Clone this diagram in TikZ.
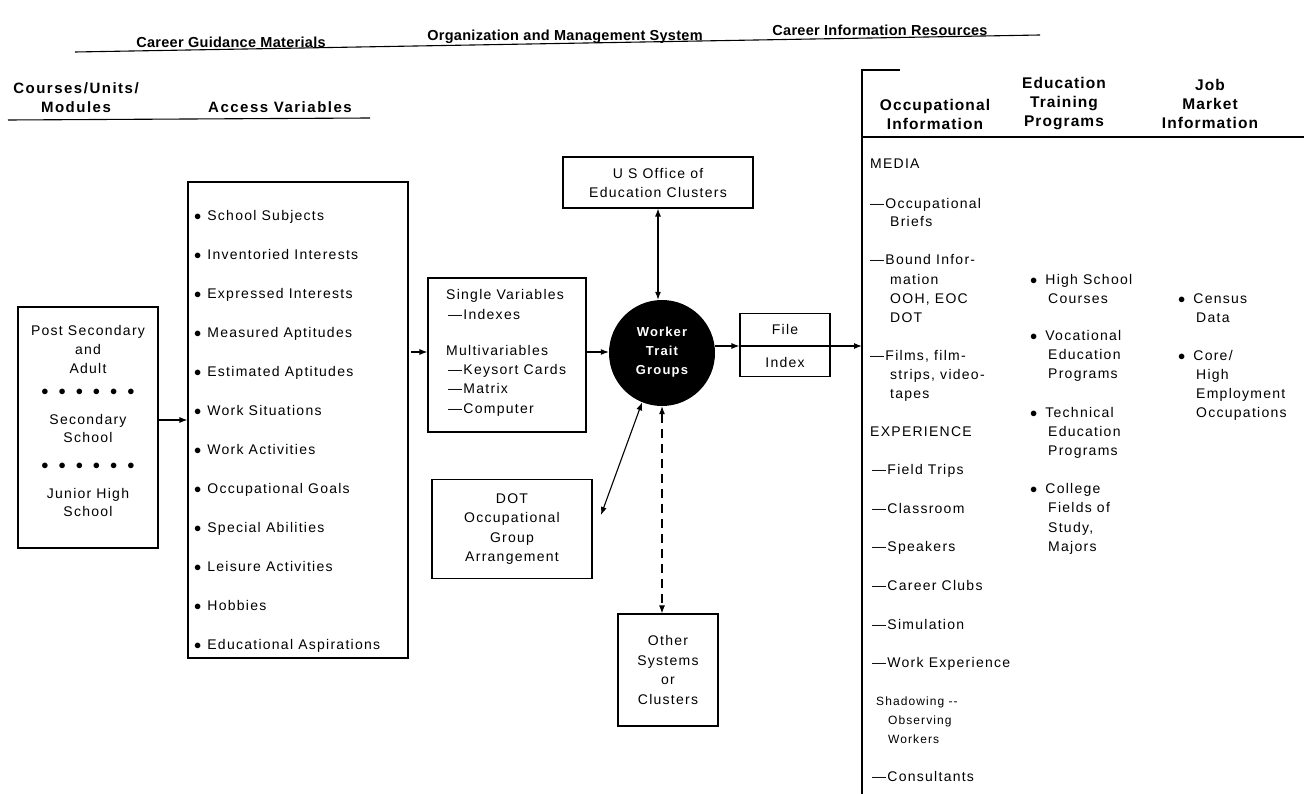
\documentclass[tikz,border=0pt]{standalone}
\usepackage{fontspec}
\setmainfont{Liberation Sans}[LetterSpace=9]
\newfontfamily\hfont{Liberation Sans}[LetterSpace=2]
\newfontfamily\hfontr{Liberation Sans}[LetterSpace=7]
\newfontfamily\hfontw{Liberation Sans}[LetterSpace=10]
\usetikzlibrary{arrows.meta}
\newcommand{\dsh}{\textemdash}
\begin{document}
\begin{tikzpicture}[x=1pt,y=-1pt,
  every node/.style={font=\fontsize{14}{16}\selectfont, inner sep=0pt},
  hdr/.style={font=\hfont\fontsize{14.5}{19}\selectfont\bfseries},
  hdrr/.style={font=\hfontr\fontsize{15.5}{19}\selectfont\bfseries},
  hdrw/.style={font=\hfontw\fontsize{15}{19}\selectfont\bfseries},
  lt/.style={anchor=mid west},
  box/.style={draw, line width=1.1pt, inner sep=0pt},
  ln/.style={line width=1.1pt},
  arr/.style={ln, -{Latex[length=8pt,width=6pt]}},
  darr/.style={ln, {Latex[length=8pt,width=6pt]}-{Latex[length=8pt,width=6pt]}},
  small/.style={font=\fontsize{12}{14}\selectfont},
]
\useasboundingbox (0,0) rectangle (1304,794);

% top headers
\node[hdr] (h1) at (231,42) {Career Guidance Materials};
\node[hdr] (h2) at (565,37) {Organization and Management System};
\node[hdr] (h3) at (880,30) {Career Information Resources};
\coordinate (tl1) at (75,52);
\coordinate (tl2) at (1040,35);
\draw[ln] (tl1) -- (tl2);

% second headers left
\node[hdrw, align=center] (h4) at (76,98) {Courses/Units/\\Modules};
\node[hdrw] (h5) at (280,107) {Access Variables};
\coordinate (ll1) at (8,120);
\coordinate (ll2) at (370,118);
\draw[ln] (ll1) -- (ll2);

% right bracket and headers
\coordinate (rb0) at (900,70);
\coordinate (rb1) at (862,70);
\coordinate (rb2) at (862,794);
\draw[ln] (rb0) -- (rb1) -- (rb2);
\node[hdrr, align=center] (h6) at (935,114) {Occupational\\Information};
\node[hdrr, align=center] (h7) at (1064,104) {Education\\Training\\Programs};
\node[hdrr, align=center] (h8) at (1210,104) {Job\\Market\\Information};
\coordinate (rl1) at (862,137);
\coordinate (rl2) at (1304,137);
\draw[ln] (rl1) -- (rl2);

% left box
\node[box, minimum width=140pt, minimum height=241pt] (lev) at (88,427.5) {};
\node (lev1) at (88,349) [align=center, font=\fontsize{14}{19}\selectfont] {Post Secondary\\and\\Adult};
\node (dots1) at (88,392) {$\bullet$\hspace{10pt}$\bullet$\hspace{10pt}$\bullet$\hspace{10pt}$\bullet$\hspace{10pt}$\bullet$\hspace{10pt}$\bullet$};
\node (lev2) at (88,428) [align=center, font=\fontsize{14}{18}\selectfont] {Secondary\\School};
\node (dots2) at (88,466) {$\bullet$\hspace{10pt}$\bullet$\hspace{10pt}$\bullet$\hspace{10pt}$\bullet$\hspace{10pt}$\bullet$\hspace{10pt}$\bullet$};
\node (lev3) at (88,502) [align=center, font=\fontsize{14}{18}\selectfont] {Junior High\\School};

% access variables box
\node[box, minimum width=220pt, minimum height=476pt] (acc) at (298,420) {};
\foreach \t [count=\i] in {School Subjects, Inventoried Interests, Expressed Interests, Measured Aptitudes, Estimated Aptitudes, Work Situations, Work Activities, Occupational Goals, Special Abilities, Leisure Activities, Hobbies, Educational Aspirations}{
  \node[lt] (av\i) at (194,{218+39*(\i-1)}) {$\bullet$\hspace{6pt}\t};
}
\draw[arr] (lev.east |- 0,420) -- (acc.west |- 0,420);

% single variables box
\node[box, minimum width=158pt, minimum height=154pt] (sv) at (507,355) {};
\node[lt] (sv1) at (446,297) {Single Variables};
\node[lt] (sv2) at (448,317) {\dsh Indexes};
\node[lt] (sv3) at (446,353) {Multivariables};
\node[lt] (sv4) at (448,372) {\dsh Keysort Cards};
\node[lt] (sv5) at (448,391) {\dsh Matrix};
\node[lt] (sv6) at (448,411) {\dsh Computer};
\coordinate (acco) at (411,352);
\draw[arr] (acco) -- (sv.west |- acco);

% circle
\node[circle, fill=black, minimum size=106pt] (wtg) at (662,353) {};
\node[text=white, font=\fontsize{13}{19}\selectfont\bfseries, align=center] (wtgt) at (662,352) {Worker\\Trait\\Groups};
\draw[arr] (sv.east |- 0,352) -- (wtg.west |- 0,352);

% US office box
\node[box, minimum width=190pt, minimum height=51pt, align=center, font=\fontsize{14}{19}\selectfont] (uso) at (658,182.5) {U S Office of\\Education Clusters};
\draw[darr] (uso.south -| 658,0) -- (wtg.north -| 658,0);

% File Index box
\node[box, minimum width=90pt, minimum height=63pt] (fi) at (785,345) {};
\node (fil) at (785,329) {File};
\node (ind) at (785,362) {Index};
\coordinate (brk) at (862,346);
\draw[ln] (fi.west |- brk) -- (fi.east |- brk);
\draw[arr] (wtg.east |- brk) -- (fi.west |- brk);
\draw[arr] (fi.east |- brk) -- (brk);

% DOT box
\node[box, minimum width=160pt, minimum height=99pt, align=center, font=\fontsize{14}{19.3}\selectfont] (dot) at (512,529) {DOT\\Occupational\\Group\\Arrangement};
\coordinate (dotin) at (601,515);
\draw[darr] (wtg.-112) -- (dotin);

% Other systems box
\node[box, minimum width=100pt, minimum height=112pt, align=center, font=\fontsize{14}{19.5}\selectfont] (oth) at (668,670) {Other\\Systems\\or\\Clusters};
\draw[darr, dash pattern=on 9pt off 6pt] (wtg.south) -- (wtg.south |- oth.north);

% occupational information column
\node[lt] (m0) at (870,166) {MEDIA};
\node[lt] (m1) at (870,206) {\dsh Occupational};
\node[lt] (m1b) at (890,224) {Briefs};
\node[lt] (m2) at (870,262) {\dsh Bound Infor-};
\node[lt] (m2b) at (890,282) {mation};
\node[lt] (m2c) at (890,301) {OOH, EOC};
\node[lt] (m2d) at (890,320) {DOT};
\node[lt] (m3) at (870,358) {\dsh Films, film-};
\node[lt] (m3b) at (890,377) {strips, video-};
\node[lt] (m3c) at (890,396) {tapes};
\node[lt] (e0) at (870,434) {EXPERIENCE};
\foreach \t [count=\i] in {Field Trips, Classroom, Speakers, Career Clubs, Simulation, Work Experience}{
  \node[lt] (e\i) at (872,{472+38.6*(\i-1)}) {\dsh\t};
}
\node[lt, small] (e7) at (876,703) {Shadowing -{}-};
\node[lt, small] (e7b) at (888,722) {Observing};
\node[lt, small] (e7c) at (888,741) {Workers};
\node[lt] (e8) at (872,779) {\dsh Consultants};

% education training column
\node[lt] (p1) at (1030,282) {$\bullet$\hspace{8pt}High School};
\node[lt] (p1b) at (1048,301) {Courses};
\node[lt] (p2) at (1030,338) {$\bullet$\hspace{8pt}Vocational};
\node[lt] (p2b) at (1048,357) {Education};
\node[lt] (p2c) at (1048,376) {Programs};
\node[lt] (p3) at (1030,415) {$\bullet$\hspace{8pt}Technical};
\node[lt] (p3b) at (1048,434) {Education};
\node[lt] (p3c) at (1048,453) {Programs};
\node[lt] (p4) at (1030,491) {$\bullet$\hspace{8pt}College};
\node[lt] (p4b) at (1048,510) {Fields of};
\node[lt] (p4c) at (1048,530) {Study,};
\node[lt] (p4d) at (1048,549) {Majors};

% job market column
\node[lt] (j1) at (1178,301) {$\bullet$\hspace{8pt}Census};
\node[lt] (j1b) at (1196,320) {Data};
\node[lt] (j2) at (1178,358) {$\bullet$\hspace{8pt}Core/};
\node[lt] (j2b) at (1196,377) {High};
\node[lt] (j2c) at (1196,396) {Employment};
\node[lt] (j2d) at (1196,415) {Occupations};
\end{tikzpicture}
\end{document}
